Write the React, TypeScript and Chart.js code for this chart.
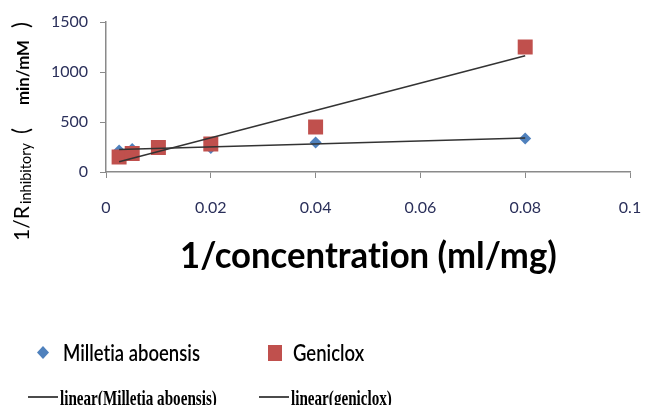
import React, { useEffect, useRef } from "react";
import { Chart, registerables } from "chart.js";

Chart.register(...registerables);

// ---- data ----
const concentrations = [0.0025, 0.005, 0.01, 0.02, 0.04, 0.08];
const milletiaValues = [215, 230, 245, 240, 295, 335];
const genicloxValues = [150, 185, 245, 280, 450, 1250];
const xTickValues = [0, 0.02, 0.04, 0.06, 0.08, 0.1];
const yTickValues = [0, 500, 1000, 1500];
const seriesNames = ["Milletia aboensis", "Geniclox"];
const trendNames = ["linear(Milletia aboensis)", "linear(geniclox)"];
const xTitle = "1/concentration (ml/mg)";

const BLUE = "#4F81BD";
const RED = "#C0504D";
const TICK_COLOR = "#2a2f5a";
const AXIS_COLOR = "#8a8a8a";
const TREND_COLOR = "#333333";

function linearFit(xs: number[], ys: number[]) {
  const n = xs.length;
  const mx = xs.reduce((a, b) => a + b, 0) / n;
  const my = ys.reduce((a, b) => a + b, 0) / n;
  let sxy = 0;
  let sxx = 0;
  for (let i = 0; i < n; i++) {
    sxy += (xs[i] - mx) * (ys[i] - my);
    sxx += (xs[i] - mx) * (xs[i] - mx);
  }
  const slope = sxy / sxx;
  const intercept = my - slope * mx;
  const x0 = Math.min(...xs);
  const x1 = Math.max(...xs);
  return [
    { x: x0, y: intercept + slope * x0 },
    { x: x1, y: intercept + slope * x1 },
  ];
}

// break the "ti" ligature of Lato while keeping the text as text
const noLig = (s: string) => s.replace(/ti/g, "t\u200Ci");

function fitFont(ctx: CanvasRenderingContext2D, text: string, weight: string, family: string, target: number) {
  ctx.font = `${weight} 20px ${family}`;
  const w = ctx.measureText(text).width;
  return (20 * target) / w;
}

// text drawn with a vertical stretch, as in the (stretched) original picture
function stretchText(ctx: CanvasRenderingContext2D, text: string, x: number, baseline: number, k: number) {
  ctx.save();
  ctx.translate(x, baseline);
  ctx.scale(1, k);
  ctx.fillText(text, 0, 0);
  ctx.restore();
}

const SANS = "Lato, 'Open Sans', sans-serif";
const SERIF = "'Liberation Serif', 'DejaVu Serif', serif";

const decorPlugin = {
  id: "decor",
  afterDraw(chart: any) {
    const ctx: CanvasRenderingContext2D = chart.ctx;
    ctx.save();
    ctx.fillStyle = "#000";
    ctx.textBaseline = "alphabetic";
    ctx.textAlign = "left";

    // ---- y axis title (rotated), pieces placed along the axis ----
    ctx.save();
    ctx.translate(29, 241);
    ctx.rotate(-Math.PI / 2);
    const piece = (t: string, weight: string, target: number, at: number, dy: number) => {
      const s = fitFont(ctx, t, weight, SANS, target);
      ctx.font = `${weight} ${s}px ${SANS}`;
      ctx.fillText(t, at, dy);
    };
    piece("1/R", "400", 35, 0, 0);
    piece("inhibitory", "400", 61, 37, 2);
    piece("(", "400", 6, 107, 0);
    piece("min/mM", "700", 65, 136, 0);
    piece(")", "400", 6, 213, 0);
    ctx.restore();

    // ---- x axis title ----
    const t = noLig(xTitle);
    const xs = fitFont(ctx, t, "700", SANS, 377);
    ctx.font = `700 ${xs}px ${SANS}`;
    stretchText(ctx, t, 180, 268, 1.05);

    // ---- legend row 1 ----
    ctx.fillStyle = BLUE;
    ctx.beginPath();
    ctx.moveTo(43, 346);
    ctx.lineTo(49, 352.5);
    ctx.lineTo(43, 359);
    ctx.lineTo(37, 352.5);
    ctx.closePath();
    ctx.fill();
    ctx.fillStyle = RED;
    ctx.fillRect(268, 345, 14, 16);

    ctx.fillStyle = "#000";
    const n0 = noLig(seriesNames[0]);
    const s1 = fitFont(ctx, n0, "600", SANS, 137);
    ctx.font = `600 ${s1}px ${SANS}`;
    stretchText(ctx, n0, 63, 361, 1.22);
    stretchText(ctx, noLig(seriesNames[1]), 293, 361, 1.22);

    // ---- legend row 2 ----
    ctx.strokeStyle = "#111";
    ctx.lineWidth = 1.5;
    ctx.beginPath();
    ctx.moveTo(28, 397);
    ctx.lineTo(58, 397);
    ctx.moveTo(259, 397);
    ctx.lineTo(289, 397);
    ctx.stroke();

    const s2 = fitFont(ctx, trendNames[0], "700", SERIF, 157);
    ctx.font = `700 ${s2}px ${SERIF}`;
    stretchText(ctx, trendNames[0], 60, 405, 1.4);
    stretchText(ctx, trendNames[1], 291, 405, 1.4);

    ctx.restore();
  },
};

export default function App() {
  const ref = useRef<HTMLCanvasElement | null>(null);

  useEffect(() => {
    if (!ref.current) return;
    const milletia = concentrations.map((c, i) => ({ x: c, y: milletiaValues[i] }));
    const geniclox = concentrations.map((c, i) => ({ x: c, y: genicloxValues[i] }));
    const chart = new Chart(ref.current, {
      type: "scatter",
      data: {
        datasets: [
          {
            label: trendNames[0],
            data: linearFit(concentrations, milletiaValues),
            showLine: true,
            borderColor: TREND_COLOR,
            borderWidth: 1.5,
            pointRadius: 0,
            fill: false,
          },
          {
            label: trendNames[1],
            data: linearFit(concentrations, genicloxValues),
            showLine: true,
            borderColor: TREND_COLOR,
            borderWidth: 1.5,
            pointRadius: 0,
            fill: false,
          },
          {
            label: seriesNames[1],
            data: geniclox,
            pointStyle: "rect",
            pointRadius: 10.6,
            backgroundColor: RED,
            borderColor: RED,
            borderWidth: 0,
          },
          {
            label: seriesNames[0],
            data: milletia,
            pointStyle: "rectRot",
            pointRadius: 6,
            backgroundColor: BLUE,
            borderColor: BLUE,
            borderWidth: 0,
          },
        ],
      },
      options: {
        animation: false,
        responsive: false,
        devicePixelRatio: 1,
        layout: { padding: { top: 22, right: 17, left: 0, bottom: 0 } },
        plugins: {
          legend: { display: false },
          tooltip: { enabled: false },
          title: { display: false },
        },
        scales: {
          x: {
            type: "linear",
            min: 0,
            max: 0.1,
            afterBuildTicks: (scale: any) => {
              scale.ticks = xTickValues.map((v) => ({ value: v }));
            },
            afterFit: (scale: any) => {
              scale.height = 233;
              scale.paddingRight = 0;
              scale.paddingLeft = 0;
            },
            ticks: {
              color: TICK_COLOR,
              font: { family: SANS, size: 16 },
              padding: 20,
              maxRotation: 0,
              callback: (v: any) => String(v),
            },
            grid: { drawOnChartArea: false, tickLength: 6, color: AXIS_COLOR },
            border: { color: AXIS_COLOR, width: 1.5 },
          },
          y: {
            type: "linear",
            min: 0,
            max: 1500,
            afterBuildTicks: (scale: any) => {
              scale.ticks = yTickValues.map((v) => ({ value: v }));
            },
            afterFit: (scale: any) => {
              scale.width = 106;
              scale.paddingTop = 0;
              scale.paddingBottom = 0;
            },
            ticks: {
              color: TICK_COLOR,
              font: { family: SANS, size: 16 },
              padding: 12,
              callback: (v: any) => String(v),
            },
            grid: { drawOnChartArea: false, tickLength: 6, color: AXIS_COLOR },
            border: { color: AXIS_COLOR, width: 1.5 },
          },
        },
      },
      plugins: [decorPlugin],
    } as any);
    return () => chart.destroy();
  }, []);

  return (
    <div style={{ position: "absolute", left: 0, top: 0, width: 647, height: 405, background: "#fff" }}>
      <canvas ref={ref} width={647} height={405} style={{ display: "block" }} />
    </div>
  );
}
